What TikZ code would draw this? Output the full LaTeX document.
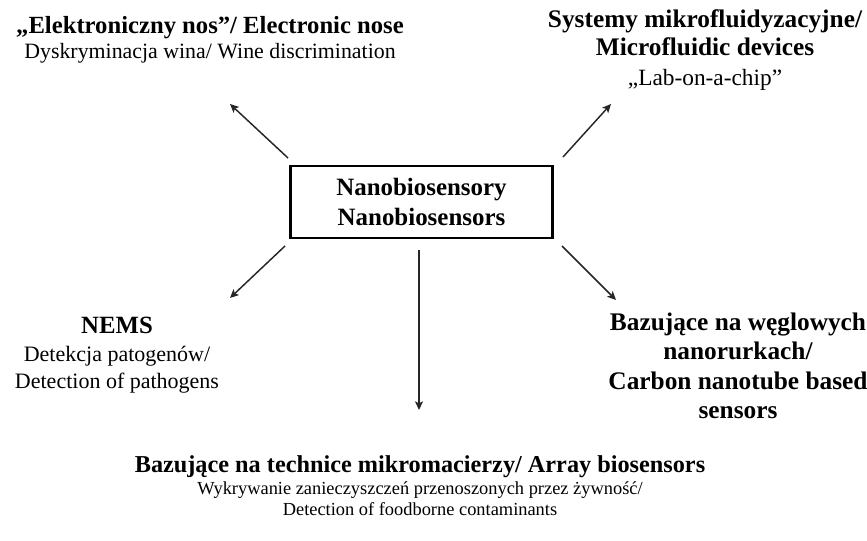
\documentclass[tikz,border=0pt]{standalone}
\usepackage{fontspec}
\setmainfont{Liberation Serif}
\usetikzlibrary{arrows.meta}

\newcommand{\headfont}[1]{\fontsize{#1}{#1}\selectfont\bfseries}
\newcommand{\bodyfont}[1]{\fontsize{#1}{#1}\selectfont\mdseries}

\tikzset{
  px/.style={x=0.75pt, y=-0.75pt},
  label/.style={align=center, inner sep=0pt},
  pointer/.style={line width=1.1pt, black!85, -{Stealth[length=6.5pt, width=6pt, inset=1.5pt]}}
}

\begin{document}
\begin{tikzpicture}[px]
    \useasboundingbox (0,0) rectangle (867,541);

    % central box
    \node[draw, line width=2.2pt, minimum width=197pt, minimum height=54pt,
          align=center, font=\fontsize{18.7}{22.5}\selectfont\bfseries]
        (Nano) at (421.5,202) {Nanobiosensory\\Nanobiosensors};

    % outer labels
    \node[label, font=\fontsize{16}{18.75}\selectfont] (Nose) at (210,40)
        {\headfont{18.5}„Elektroniczny nos”/ Electronic nose\\
         \bodyfont{16.4}Dyskryminacja wina/ Wine discrimination};
    \node[label, font=\fontsize{18}{21.5}\selectfont] (Fluid) at (705,50)
        {\headfont{19}Systemy mikrofluidyzacyjne/\\\headfont{19}Microfluidic devices\\[1pt]
         \bodyfont{17.5}„Lab-on-a-chip”};
    \node[label, font=\fontsize{16}{20.6}\selectfont] (Nems) at (117,355.5)
        {\headfont{18.6}NEMS\\
         \bodyfont{16.5}Detekcja patogenów/\\\bodyfont{16.5}Detection of pathogens};
    \node[label, font=\fontsize{19}{22}\selectfont\bfseries] (Tube) at (738,366)
        {Bazujące na węglowych\\nanorurkach/\\Carbon nanotube based\\sensors};
    \node[label, font=\fontsize{14}{16.2}\selectfont] (Array) at (420,486)
        {\headfont{18.2}Bazujące na technice mikromacierzy/ Array biosensors\\
         \bodyfont{13.8}Wykrywanie zanieczyszczeń przenoszonych przez żywność/\\
         \bodyfont{13.8}Detection of foodborne contaminants};

    % arrow ends
    \coordinate (tlA) at (288,158);
    \coordinate (tlB) at (230,104);
    \coordinate (trA) at (563,157);
    \coordinate (trB) at (611,104);
    \coordinate (blA) at (285,246);
    \coordinate (blB) at (230,298);
    \coordinate (bmA) at (419,250);
    \coordinate (bmB) at (419,410);
    \coordinate (brA) at (562,246);
    \coordinate (brB) at (616,300);

    \draw[pointer] (tlA) -- (tlB);
    \draw[pointer] (trA) -- (trB);
    \draw[pointer] (blA) -- (blB);
    \draw[pointer] (bmA) -- (bmB);
    \draw[pointer] (brA) -- (brB);
\end{tikzpicture}
\end{document}
